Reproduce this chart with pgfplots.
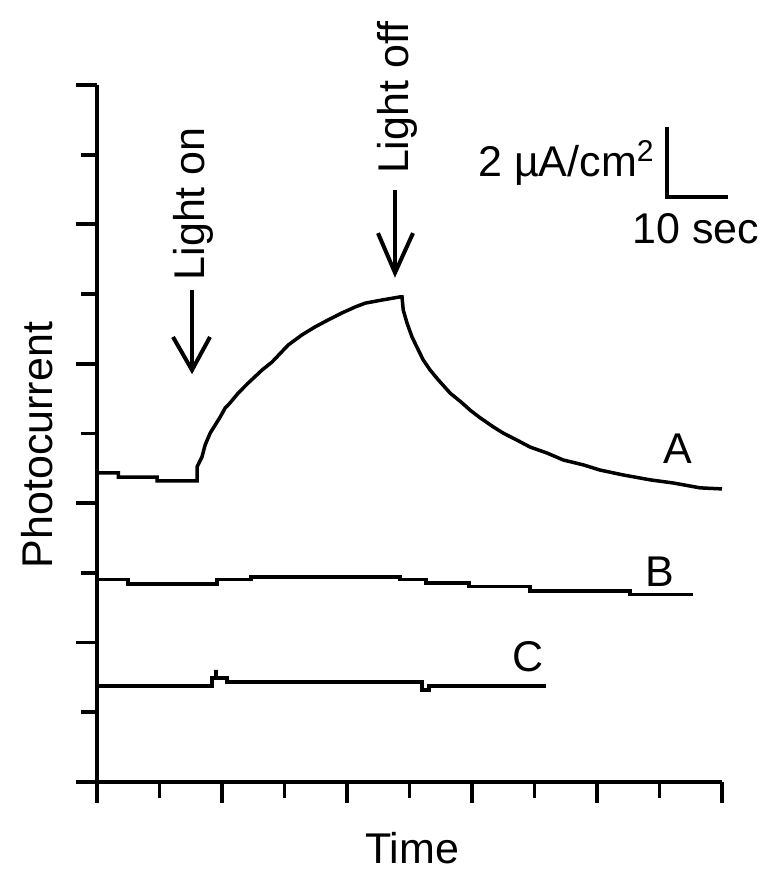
\documentclass[border=0pt]{standalone}
\usepackage{fontspec}
\setmainfont{Liberation Sans}
\usepackage{pgfplots}
\pgfplotsset{compat=1.18}
\tikzset{lbl/.style={font=\fontsize{21.5}{26}\selectfont, inner sep=0pt}}
\begin{document}
\begin{tikzpicture}
\begin{axis}[
  scale only axis, width=312.5pt, height=348.5pt,
  xmin=0, xmax=100, ymin=0, ymax=20,
  axis lines*=left,
  tick pos=left,
  axis line style={line width=1.9pt},
  xtick={0,20,...,100}, minor xtick={10,30,...,90},
  ytick={0,4,...,20}, minor ytick={2,6,...,18},
  xticklabels={}, yticklabels={},
  tick align=outside,
  major tick length=10.5pt, minor tick length=8pt,
  every tick/.style={black, line width=1.9pt},
  clip=false,
]
% Trace A
\addplot[black, line width=1.75pt, sharp plot, line join=miter] coordinates {
(0,8.87)(3.4,8.87)(3.4,8.75)(9.6,8.75)(9.6,8.64)(16.0,8.64)(16.0,9.04)(16.8,9.33)(17.3,9.67)(18.1,10.01)(18.9,10.24)(19.7,10.47)(20.5,10.73)(21.3,10.88)(22.6,11.16)(24.2,11.45)(26.4,11.82)(28.0,12.05)(30.6,12.54)(32.8,12.83)(34.9,13.06)(37.0,13.26)(39.2,13.46)(41.3,13.63)(42.9,13.74)(45.6,13.83)(48.5,13.92)(48.8,13.92)(49.0,13.54)(49.6,13.17)(50.4,12.77)(51.4,12.40)(52.2,12.11)(53.3,11.82)(54.6,11.54)(56.5,11.16)(58.4,10.88)(59.7,10.67)(61.3,10.45)(63.4,10.19)(65.0,10.01)(67.2,9.81)(69.3,9.61)(72.0,9.44)(74.6,9.24)(77.8,9.10)(80.5,8.95)(84.2,8.81)(88.5,8.67)(92.2,8.58)(96.5,8.44)(100,8.41)
};
% Trace B
\addplot[black, line width=1.6pt, const plot] coordinates {
(0,5.80)(4.96,5.68)(19.2,5.80)(24.64,5.88)(48.48,5.80)(52.64,5.71)(59.52,5.60)(69.28,5.48)(85.28,5.37)(95.36,5.37)
};
% Trace C
\addplot[black, line width=1.6pt, sharp plot] coordinates {
(0,2.755)(18.4,2.755)(18.4,2.984)(19.04,2.984)(19.04,3.214)(19.04,2.984)(20.8,2.984)(20.8,2.869)(52.0,2.869)(52.0,2.640)(53.12,2.640)(53.12,2.755)(71.84,2.755)
};
% arrows
\draw[line width=2pt] (axis cs:15.2,14.12) -- (axis cs:15.2,11.82);
\draw[line width=2pt] (axis cs:12.16,12.77) -- (axis cs:15.2,11.82) -- (axis cs:18.08,12.77);
\draw[line width=2pt] (axis cs:47.68,16.99) -- (axis cs:47.68,14.61);
\draw[line width=2pt] (axis cs:44.96,15.75) -- (axis cs:47.68,14.61) -- (axis cs:50.56,15.75);
\node[lbl, rotate=90] at (axis cs:15.36,16.59) {Light on};
\node[lbl, rotate=90] at (axis cs:48.0,19.63) {Light off};
% scale bar
\draw[line width=1.9pt] (axis cs:91.2,18.80) -- (axis cs:91.2,16.79) -- (axis cs:100.96,16.79);
\node[lbl, anchor=base east] at (axis cs:89.28,17.36) {2 µA/cm\textsuperscript{2}};
\node[lbl] at (axis cs:95.84,15.87) {10 sec};
% trace labels
\node[lbl] at (axis cs:92.96,9.56) {A};
\node[lbl] at (axis cs:90.08,6.03) {B};
\node[lbl] at (axis cs:68.96,3.59) {C};
% axis labels
\node[lbl, rotate=90] at (axis cs:-9.6,9.67) {Photocurrent};
\node[lbl] at (axis cs:50.4,-1.894) {Time};
\coordinate (bbsw) at (rel axis cs:0,0);
\end{axis}
\pgfresetboundingbox
\path (bbsw) ++(-48.5pt,-50.5pt) rectangle ++(390pt,441.5pt);
\end{tikzpicture}
\end{document}
